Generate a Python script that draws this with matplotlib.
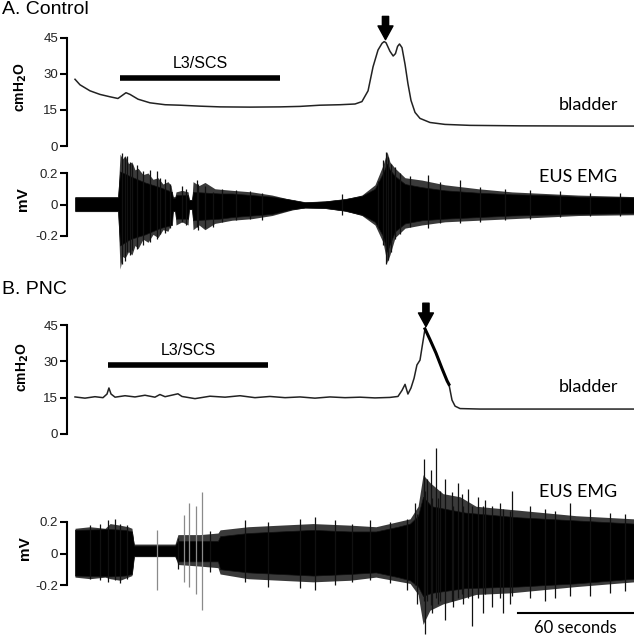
import matplotlib.pyplot as plt

# ---- data (time in s, bladder in cmH2O, EMG in mV) ----
# A. Control, bladder pressure
ctl_bl_t = [0.0, 2.6, 7.8, 13.0, 18.3, 22.4, 24.5, 26.6, 28.7, 32.9, 39.1, 47.0, 54.8,
            65.2, 75.7, 91.3, 107.0, 117.4, 127.8, 138.3, 146.1, 149.7, 152.9, 155.5,
            158.1, 160.2, 161.3, 162.3, 164.3, 166.0, 167.2, 168.3, 169.3, 170.6, 172.2,
            173.7, 175.3, 177.4, 180.0, 185.2, 193.0, 206.1, 232.2, 273.9, 291.6]
ctl_bl_p = [27.8, 25.5, 23.0, 21.5, 20.5, 19.8, 21.0, 22.2, 21.5, 19.5, 18.0, 17.2, 17.0,
            16.6, 16.3, 16.2, 16.3, 16.5, 17.0, 17.2, 17.5, 18.5, 23.0, 33.0,
            40.0, 42.8, 43.5, 43.0, 39.5, 37.5, 38.5, 41.5, 42.5, 41.0, 34.0,
            26.0, 19.0, 14.0, 11.5, 9.8, 9.0, 8.6, 8.4, 8.3, 8.3]

# A. Control, EUS EMG: outer envelope, dense core and single spikes
ctl_emg_t = [0.0, 22.4, 23.5, 24.8, 26.1, 27.9, 29.7, 31.3, 32.9, 35.5, 38.1, 40.7, 43.3,
             45.9, 48.5, 50.1, 51.1, 52.2, 52.7, 55.8, 59.0, 59.5, 61.0, 61.6, 64.7, 67.8,
             73.0, 81.9, 92.3, 102.8, 113.2, 120.0, 130.4, 140.9, 149.7, 156.5, 160.7,
             162.8, 164.3, 167.0, 172.2, 181.0, 193.0, 210.3, 228.0, 245.2, 262.4, 291.7]
ctl_emg_hi = [0.05, 0.05, 0.32, 0.29, 0.31, 0.26, 0.27, 0.22, 0.23, 0.19, 0.20, 0.16, 0.17,
              0.13, 0.145, 0.12, 0.05, 0.05, 0.08, 0.09, 0.08, 0.03, 0.03, 0.145, 0.12, 0.14,
              0.10, 0.09, 0.08, 0.06, 0.03, 0.015, 0.022, 0.035, 0.06, 0.125, 0.25,
              0.335, 0.27, 0.23, 0.17, 0.155, 0.125, 0.10, 0.08, 0.07, 0.06, 0.05]
ctl_emg_lo = [-0.045, -0.045, -0.41, -0.33, -0.34, -0.30, -0.32, -0.26, -0.28, -0.22, -0.24,
              -0.19, -0.21, -0.16, -0.17, -0.12, -0.045, -0.045, -0.13, -0.11, -0.13, -0.03,
              -0.03, -0.16, -0.13, -0.16, -0.12, -0.10, -0.09, -0.07, -0.035, -0.02, -0.025,
              -0.04, -0.07, -0.13, -0.24, -0.37, -0.32, -0.21, -0.15, -0.13, -0.11, -0.10,
              -0.09, -0.08, -0.07, -0.065]
ctl_core_t = [0.0, 22.4, 23.5, 28.7, 36.5, 44.3, 50.6, 51.1, 52.2, 52.7, 59.0, 59.5, 61.0,
              61.6, 75.7, 81.9, 92.3, 102.8, 113.2, 120.0, 130.4, 140.9, 149.7, 156.5,
              160.7, 162.8, 164.3, 167.0, 172.2, 181.0, 193.0, 210.3, 228.0, 245.2, 262.4,
              291.7]
ctl_core_hi = [0.045, 0.045, 0.21, 0.18, 0.14, 0.11, 0.08, 0.04, 0.04, 0.06, 0.06, 0.03,
               0.03, 0.08, 0.07, 0.07, 0.06, 0.05, 0.03, 0.015, 0.02, 0.035, 0.055, 0.10,
               0.20, 0.26, 0.22, 0.18, 0.13, 0.11, 0.09, 0.075, 0.065, 0.06, 0.05, 0.045]
ctl_core_lo = [-0.04, -0.04, -0.26, -0.22, -0.19, -0.15, -0.13, -0.04, -0.04, -0.09, -0.09,
               -0.03, -0.03, -0.10, -0.09, -0.08, -0.07, -0.06, -0.03, -0.02, -0.022, -0.04,
               -0.065, -0.11, -0.20, -0.30, -0.25, -0.17, -0.12, -0.10, -0.09, -0.08, -0.07,
               -0.065, -0.06, -0.055]
ctl_spk_t = [24.5, 26.1, 27.1, 28.7, 29.7, 32.3, 35.5, 39.1, 42.8, 44.3, 47.0, 49.6, 55.8,
             57.9, 63.7, 64.2, 67.8, 72.0, 76.7, 84.0, 91.3, 97.6, 139.3, 158.1, 160.7,
             162.3, 163.3, 164.9, 167.0, 169.6, 174.8, 184.2, 190.4, 200.9, 211.3, 224.3,
             237.4, 253.0, 268.7, 284.3]
ctl_spk_hi = [0.33, 0.30, 0.31, 0.27, 0.26, 0.25, 0.21, 0.22, 0.21, 0.17, 0.16, 0.13, 0.115,
              0.10, 0.155, 0.13, 0.12, 0.08, 0.10, 0.09, 0.085, 0.07, 0.065, 0.15, 0.28,
              0.335, 0.30, 0.26, 0.24, 0.20, 0.18, 0.19, 0.14, 0.155, 0.11, 0.10,
              0.09, 0.085, 0.075, 0.07]
ctl_spk_lo = [-0.38, -0.36, -0.30, -0.32, -0.29, -0.28, -0.26, -0.24, -0.22, -0.19, -0.18,
              -0.15, -0.11, -0.13, -0.14, -0.16, -0.15, -0.14, -0.11, -0.10, -0.09, -0.10,
              -0.067, -0.14, -0.26, -0.38, -0.35, -0.30, -0.22, -0.19, -0.14, -0.15, -0.12,
              -0.12, -0.11, -0.10, -0.09, -0.08, -0.075, -0.07]

# B. PNC, bladder pressure
pnc_bl_t = [0.0, 5.2, 10.4, 14.6, 16.7, 17.7, 18.8, 20.9, 26.1, 31.3, 36.5, 41.7, 44.3,
            47.0, 53.7, 55.8, 62.6, 70.4, 78.3, 86.1, 93.9, 101.7, 109.6, 117.4, 125.2,
            133.0, 140.9, 148.7, 156.5, 164.3, 168.5, 170.6, 172.2, 173.7, 175.3, 176.9,
            178.4, 180.0, 181.1, 182.6, 185.2, 188.3, 191.5, 194.1, 195.1, 196.7, 198.3,
            200.9, 211.3, 247.8, 291.7]
pnc_bl_p = [15.3, 14.8, 15.4, 15.0, 16.5, 19.0, 16.5, 15.2, 15.8, 15.3, 16.0, 15.2, 16.3,
            15.4, 16.6, 15.5, 14.6, 15.6, 15.2, 15.8, 15.0, 15.5, 15.0, 15.3, 14.8,
            15.3, 15.0, 15.2, 14.9, 15.1, 15.5, 18.0, 20.5, 16.5, 19.0, 23.0,
            28.5, 30.5, 36.0, 43.4, 39.0, 33.5, 27.0, 22.0, 20.5, 14.0, 11.5,
            10.5, 10.3, 10.3, 10.3]

# B. PNC, EUS EMG
pnc_emg_t = [0.0, 7.8, 15.7, 18.3, 23.5, 27.7, 29.7, 30.8, 52.2, 53.7, 65.2, 74.6, 75.7,
             90.3, 107.0, 124.2, 143.5, 157.0, 174.8, 179.0, 181.6, 185.2, 192.0, 200.9,
             209.2, 227.0, 244.2, 261.4, 291.7]
pnc_emg_hi = [0.16, 0.17, 0.16, 0.19, 0.18, 0.17, 0.16, 0.06, 0.06, 0.12, 0.12, 0.13, 0.15,
              0.17, 0.18, 0.19, 0.18, 0.17, 0.22, 0.30, 0.50, 0.45, 0.38, 0.36,
              0.30, 0.28, 0.26, 0.24, 0.22]
pnc_emg_lo = [-0.15, -0.16, -0.15, -0.16, -0.17, -0.15, -0.14, -0.02, -0.02, -0.07, -0.08,
              -0.09, -0.13, -0.16, -0.17, -0.18, -0.17, -0.15, -0.19, -0.26, -0.45, -0.36,
              -0.32, -0.29, -0.26, -0.25, -0.23, -0.21, -0.18]
pnc_core_t = [0.0, 18.3, 26.1, 29.7, 30.8, 52.2, 53.7, 74.6, 75.7, 90.3, 107.0, 124.2,
              143.5, 157.0, 168.5, 174.8, 179.0, 181.6, 186.0, 203.5, 231.2, 261.4, 291.7]
pnc_core_hi = [0.15, 0.155, 0.15, 0.14, 0.05, 0.05, 0.08, 0.08, 0.11, 0.13, 0.14, 0.15,
               0.14, 0.14, 0.17, 0.19, 0.24, 0.36, 0.30, 0.26, 0.23, 0.21, 0.19]
pnc_core_lo = [-0.14, -0.145, -0.14, -0.13, -0.015, -0.015, -0.05, -0.05, -0.10, -0.12,
               -0.13, -0.14, -0.13, -0.12, -0.15, -0.17, -0.21, -0.27, -0.25, -0.22, -0.21,
               -0.19, -0.16]
pnc_spk_t = [7.8, 13.0, 17.2, 20.9, 23.5, 27.1, 42.8, 53.7, 56.9, 59.5, 63.1, 66.3, 70.4,
             88.7, 100.7, 117.4, 125.2, 135.7, 144.5, 153.9, 164.3, 173.2, 177.4, 178.4,
             182.1, 182.6, 183.7, 185.7, 186.3, 188.3, 189.4, 190.4, 193.0, 196.7, 197.2,
             199.8, 201.9, 202.4, 205.0, 207.1, 210.3, 212.9, 213.9, 217.6, 221.7, 223.3,
             227.0, 228.0, 237.4, 245.2, 250.4, 258.3, 268.7, 279.1, 286.9]
pnc_spk_hi = [0.18, 0.19, 0.21, 0.22, 0.19, 0.18, 0.15, 0.10, 0.245, 0.32, 0.30, 0.39, 0.14,
              0.21, 0.20, 0.22, 0.23, 0.21, 0.19, 0.21, 0.20, 0.22, 0.32, 0.25,
              0.60, 0.40, 0.47, 0.53, 0.35, 0.67, 0.35, 0.40, 0.47, 0.39, 0.30,
              0.45, 0.38, 0.30, 0.41, 0.30, 0.36, 0.30, 0.34, 0.30, 0.32, 0.28,
              0.27, 0.40, 0.30, 0.28, 0.27, 0.32, 0.28, 0.26, 0.25]
pnc_spk_lo = [-0.16, -0.17, -0.18, -0.17, -0.19, -0.16, -0.23, -0.10, -0.18, -0.21, -0.26,
              -0.36, -0.12, -0.18, -0.21, -0.22, -0.23, -0.20, -0.18, -0.17, -0.19, -0.23,
              -0.20, -0.32, -0.30, -0.51, -0.30, -0.33, -0.38, -0.28, -0.32, -0.30, -0.42,
              -0.30, -0.34, -0.28, -0.26, -0.32, -0.28, -0.46, -0.28, -0.38, -0.26, -0.34,
              -0.28, -0.38, -0.32, -0.27, -0.28, -0.30, -0.28, -0.27, -0.27, -0.25, -0.24]
# isolated stimulation artefacts drawn lighter
pnc_art = [42.8, 56.9, 59.5, 63.1, 66.3]

stim_ctl = (23.5, 107.0)
stim_pnc = (17.2, 100.7)
void_ctl = 162.0
void_pnc = 183.1

# ---- layout (pixel based) ----
FW, FH = 634, 636
fig = plt.figure(figsize=(FW / 100, FH / 100), dpi=100)
ARIAL = 'Liberation Sans'
CALIB = 'Lato'


def t_of(px):
    return (px - 75) * 60 / 115


def panel(top, bot, y0, v0, y1, v1, ticks, labels):
    ax = fig.add_axes([67 / FW, 1 - bot / FH, (FW - 67) / FW, (bot - top) / FH])
    k = (v0 - v1) / (y1 - y0)
    ax.set_ylim(v0 - (bot - y0) * k, v0 + (y0 - top) * k)
    ax.set_xlim(t_of(67), t_of(FW))
    ax.patch.set_alpha(0)
    for s in ['top', 'right', 'bottom']:
        ax.spines[s].set_visible(False)
    ax.spines['left'].set_linewidth(1.5)
    ax.spines['left'].set_bounds(ticks[0], ticks[-1])
    ax.set_xticks([])
    ax.set_yticks(ticks)
    ax.set_yticklabels(labels, fontfamily=ARIAL, fontsize=9.5, color='#222')
    ax.tick_params(axis='y', length=5, width=1.5, pad=1.5)
    return ax


def bladder(ax, t, p, stim, void):
    ax.plot(t, p, color='#222', lw=1.1)
    ax.plot(stim, [28.4, 28.4], color='black', lw=4, solid_capstyle='butt')
    ax.text(sum(stim) / 2, 34.3, 'L3/SCS', ha='center', va='center',
            fontfamily=ARIAL, fontsize=11.5)
    ax.annotate('', xy=(void, 44.3), xytext=(void, 54.0),
                arrowprops=dict(arrowstyle='simple,head_length=0.55,head_width=0.6,tail_width=0.25',
                                color='black', mutation_scale=18, shrinkA=0, shrinkB=0))


def emg(ax, t, hi, lo, ct, chi, clo, st, sh, sl, art=()):
    ax.fill_between(t, lo, hi, color='#3a3a3a', lw=0)
    ax.fill_between(ct, clo, chi, color='black', lw=0.5, edgecolor='#111')
    cols = ['#8a8a8a' if x in art else '#111111' for x in st]
    ax.vlines(st, sl, sh, colors=cols, lw=0.9)


# A. Control
fig.text(2 / FW, 1 - 9 / FH, 'A. Control', fontfamily=ARIAL, fontsize=14, va='center')
ax1 = panel(8, 150, 38, 45, 146, 0, [0, 15, 30, 45], ['0', '15', '30', '45'])
bladder(ax1, ctl_bl_t, ctl_bl_p, stim_ctl, void_ctl)
ax1.text(t_of(588), 17.0, 'bladder', ha='center', va='center', fontfamily=CALIB, fontsize=13)

ax2 = panel(150, 275, 173, 0.2, 236, -0.2, [-0.2, 0, 0.2], ['-0.2', '0', '0.2'])
emg(ax2, ctl_emg_t, ctl_emg_hi, ctl_emg_lo, ctl_core_t, ctl_core_hi, ctl_core_lo,
    ctl_spk_t, ctl_spk_hi, ctl_spk_lo)
ax2.text(t_of(578), 0.175, 'EUS EMG', ha='center', va='center', fontfamily=CALIB, fontsize=13)

# B. PNC
fig.text(2 / FW, 1 - 290 / FH, 'B. PNC', fontfamily=ARIAL, fontsize=14, va='center')
ax3 = panel(290, 440, 325, 45, 434, 0, [0, 15, 30, 45], ['0', '15', '30', '45'])
bladder(ax3, pnc_bl_t, pnc_bl_p, stim_pnc, void_pnc)
# the falling limb is drawn heavier in the original
ax3.plot(pnc_bl_t[39:45], pnc_bl_p[39:45], color='black', lw=2.2)
ax3.text(t_of(588), 19.4, 'bladder', ha='center', va='center', fontfamily=CALIB, fontsize=13)

ax4 = panel(440, 636, 522, 0.2, 585, -0.2, [-0.2, 0, 0.2], ['-0.2', '0', '0.2'])
emg(ax4, pnc_emg_t, pnc_emg_hi, pnc_emg_lo, pnc_core_t, pnc_core_hi, pnc_core_lo,
    pnc_spk_t, pnc_spk_hi, pnc_spk_lo, pnc_art)
ax4.text(t_of(578), 0.39, 'EUS EMG', ha='center', va='center', fontfamily=CALIB, fontsize=13)

# 60 s scale bar
ax4.plot([t_of(518), t_of(518) + 60], [-0.378, -0.378], color='black', lw=1.5)
ax4.text(t_of(518) + 30, -0.475, '60 seconds', ha='center', va='center',
         fontfamily=CALIB, fontsize=12)

# y labels
for x, y, s, fs in [(21, 87, r'cmH$_\mathbf{2}$O', 10), (23, 199, 'mV', 11),
                    (23, 367, r'cmH$_\mathbf{2}$O', 10), (25, 548, 'mV', 11)]:
    fig.text(x / FW, 1 - y / FH, s, rotation=90, ha='center', va='center',
             fontfamily=ARIAL, fontweight='bold', fontsize=fs)

fig.savefig('out.png', dpi=100)
